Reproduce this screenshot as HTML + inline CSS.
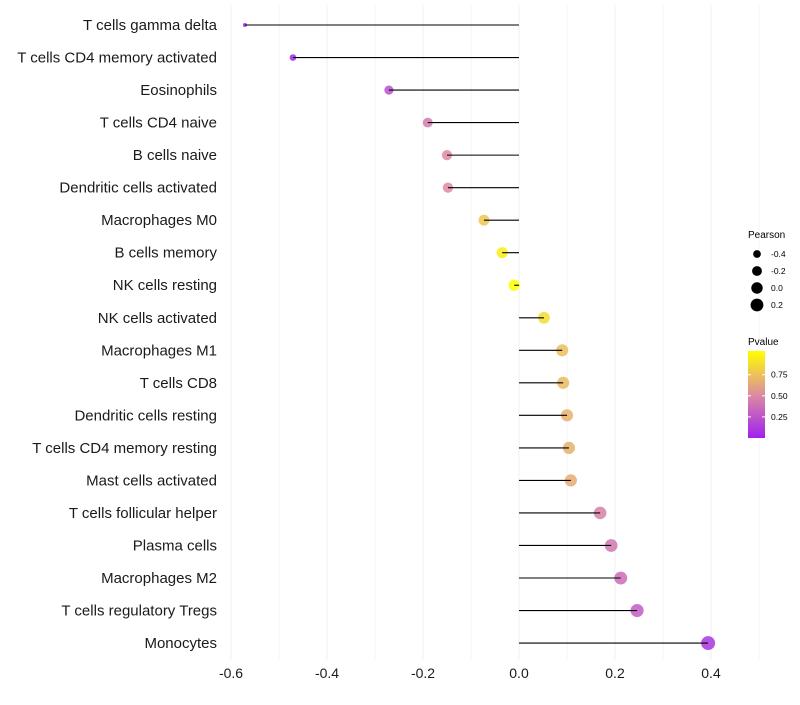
<!DOCTYPE html>
<html><head><meta charset="utf-8"><style>
body{margin:0;background:#fff;font-family:"Liberation Sans",sans-serif}
svg text{font-family:"Liberation Sans",sans-serif}
</style></head><body>
<svg id="c" width="800" height="700" xmlns="http://www.w3.org/2000/svg"></svg>
<script>
const categories=["T cells gamma delta","T cells CD4 memory activated","Eosinophils","T cells CD4 naive","B cells naive","Dendritic cells activated","Macrophages M0","B cells memory","NK cells resting","NK cells activated","Macrophages M1","T cells CD8","Dendritic cells resting","T cells CD4 memory resting","Mast cells activated","T cells follicular helper","Plasma cells","Macrophages M2","T cells regulatory  Tregs","Monocytes"];
const pearson=[-0.571,-0.471,-0.271,-0.19,-0.15,-0.148,-0.073,-0.035,-0.01,0.052,0.09,0.092,0.1,0.104,0.108,0.169,0.192,0.212,0.246,0.394];
const pvalues=[0.02,0.04,0.22,0.42,0.5,0.5,0.75,0.92,1.0,0.85,0.72,0.7,0.66,0.65,0.64,0.45,0.4,0.35,0.28,0.1];
const xTicks=[-0.6,-0.4,-0.2,0.0,0.2,0.4];
const sizeLegend=[-0.4,-0.2,0.0,0.2];
const pTicks=[0.25,0.5,0.75];
const NS="http://www.w3.org/2000/svg",svg=document.getElementById('c');
function el(t,a,p){const e=document.createElementNS(NS,t);for(const k in a)e.setAttribute(k,a[k]);(p||svg).appendChild(e);return e;}
const x=v=>519+v*480;
const y=i=>25+i*32.53;
const r=v=>1.5+Math.sqrt(Math.max(0,v+0.58)/0.98)*5.5;
function lerp(a,b,t){return a.map((c,i)=>Math.round(c+(b[i]-c)*t));}
function col(p){const s=[[160,32,240],[220,140,160],[255,255,0]];const c=p<0.5?lerp(s[0],s[1],p/0.5):lerp(s[1],s[2],(p-0.5)/0.5);return `rgb(${c})`;}
for(let v=-0.6;v<=0.51;v+=0.1){const g=el('line',{x1:x(v),x2:x(v),y1:5,y2:660,stroke:'#efefef','stroke-width':Math.abs(Math.round(v*10))%2==0?1:0.6});

}
categories.forEach((c,i)=>{
 const t=el('text',{x:217,y:y(i)+5,'text-anchor':'end','font-size':15,fill:'#1a1a1a'});t.textContent=c;
 
 
 const pt=el('circle',{cx:x(pearson[i]),cy:y(i),r:r(pearson[i]),fill:col(pvalues[i]),'fill-opacity':0.85});
 
 
 const sg=el('line',{x1:x(0),x2:x(pearson[i]),y1:y(i),y2:y(i),stroke:'#000','stroke-width':1.1});
 
 
});
xTicks.forEach(v=>{const t=el('text',{x:x(v),y:678,'text-anchor':'middle','font-size':14,fill:'#1a1a1a'});t.textContent=v.toFixed(1);

});
let t=el('text',{x:748,y:238,'font-size':10});t.textContent='Pearson';


sizeLegend.forEach((v,i)=>{const c=el('circle',{cx:757,cy:254+i*17,r:r(v)});


const l=el('text',{x:771,y:257+i*17,'font-size':8.5});l.textContent=v.toFixed(1);

});
t=el('text',{x:748,y:345,'font-size':10});t.textContent='Pvalue';


const d=el('defs',{});const lg=el('linearGradient',{id:'g',x1:0,y1:1,x2:0,y2:0},d);
[0,0.25,0.5,0.75,1].forEach(p=>el('stop',{offset:p,'stop-color':col(p)},lg));
const cb=el('rect',{x:748,y:351,width:17,height:87,fill:'url(#g)'});


const cy=p=>438-p*87*0.97;
pTicks.forEach(p=>{el('line',{x1:748,x2:751,y1:cy(p),y2:cy(p),stroke:'#fff'});el('line',{x1:762,x2:765,y1:cy(p),y2:cy(p),stroke:'#fff'});
const l=el('text',{x:771,y:cy(p)+3,'font-size':8.5});l.textContent=p.toFixed(2);

});
</script>
</body></html>
